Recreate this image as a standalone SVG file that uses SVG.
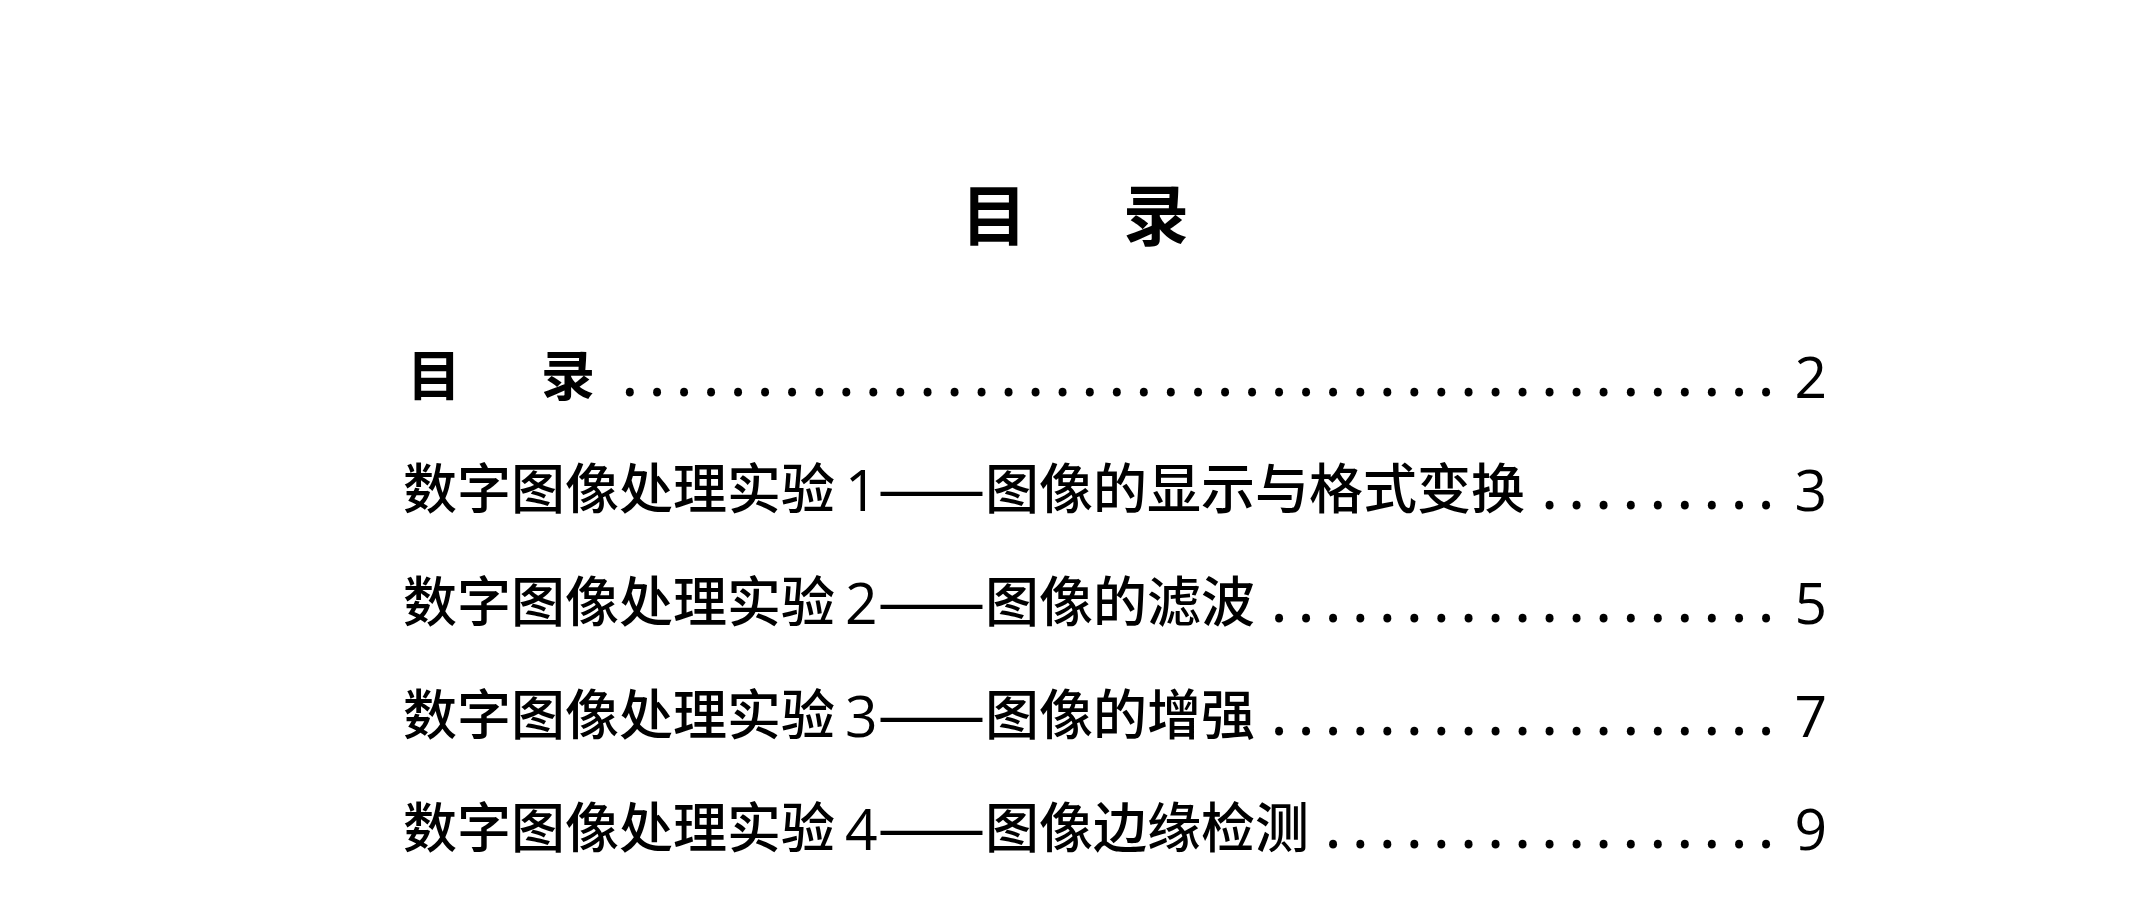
<svg xmlns="http://www.w3.org/2000/svg" width="2149" height="900" viewBox="0 0 2149 900">
<style>
.cjk{font-family:"Noto Sans CJK SC","Noto Sans",sans-serif;font-size:54px;font-weight:500;fill:#000}
.b{font-weight:700}
.num{font-family:"Open Sans","Noto Sans",sans-serif;font-size:57px;font-weight:400}
.dots{font-family:"Noto Sans",sans-serif;font-size:64px;fill:#000;text-anchor:middle}
.pg{font-family:"Open Sans","Noto Sans",sans-serif;font-size:57px;fill:#000;text-anchor:end}
</style>
<rect width="2149" height="900" fill="#fff"/>
<g id="title">
<text class="cjk b" style="font-size:66px" y="240"><tspan x="961">目</tspan><tspan x="1123">录</tspan></text>
</g>
<g id="toc1">
<text class="cjk b" y="396"><tspan x="407">目</tspan><tspan x="541">录</tspan></text>
<text class="dots" y="396" x="629.9 657 684 711.1 738.1 765.2 792.2 819.3 846.3 873.4 900.4 927.5 954.5 981.6 1008.6 1035.7 1062.7 1089.8 1116.8 1143.9 1170.9 1198 1225 1252.1 1279.1 1306.2 1333.2 1360.3 1387.3 1414.4 1441.4 1468.5 1495.5 1522.6 1549.6 1576.7 1603.7 1630.8 1657.8 1684.9 1711.9 1739 1766">...........................................</text>
<text class="pg" x="1827" y="398">2</text>
</g>
<g id="toc2">
<text class="cjk" y="509"><tspan x="403">数字图像处理实验 </tspan><tspan class="num" x="845" y="511">1</tspan><tspan y="509" textLength="108" lengthAdjust="spacingAndGlyphs">——</tspan><tspan x="985" y="509">图像的显示与格式变换</tspan></text>
<text class="dots" y="509" x="1549.6 1576.7 1603.7 1630.8 1657.8 1684.9 1711.9 1739 1766">.........</text>
<text class="pg" x="1827" y="511">3</text>
</g>
<g id="toc3">
<text class="cjk" y="622"><tspan x="403">数字图像处理实验 </tspan><tspan class="num" x="845" y="624">2</tspan><tspan y="622" textLength="108" lengthAdjust="spacingAndGlyphs">——</tspan><tspan x="985" y="622">图像的滤波</tspan></text>
<text class="dots" y="622" x="1279.1 1306.2 1333.2 1360.3 1387.3 1414.4 1441.4 1468.5 1495.5 1522.6 1549.6 1576.7 1603.7 1630.8 1657.8 1684.9 1711.9 1739 1766">...................</text>
<text class="pg" x="1827" y="624">5</text>
</g>
<g id="toc4">
<text class="cjk" y="735"><tspan x="403">数字图像处理实验 </tspan><tspan class="num" x="845" y="737">3</tspan><tspan y="735" textLength="108" lengthAdjust="spacingAndGlyphs">——</tspan><tspan x="985" y="735">图像的增强</tspan></text>
<text class="dots" y="735" x="1279.1 1306.2 1333.2 1360.3 1387.3 1414.4 1441.4 1468.5 1495.5 1522.6 1549.6 1576.7 1603.7 1630.8 1657.8 1684.9 1711.9 1739 1766">...................</text>
<text class="pg" x="1827" y="737">7</text>
</g>
<g id="toc5">
<text class="cjk" y="848"><tspan x="403">数字图像处理实验 </tspan><tspan class="num" x="845" y="850">4</tspan><tspan y="848" textLength="108" lengthAdjust="spacingAndGlyphs">——</tspan><tspan x="985" y="848">图像边缘检测</tspan></text>
<text class="dots" y="848" x="1333.2 1360.3 1387.3 1414.4 1441.4 1468.5 1495.5 1522.6 1549.6 1576.7 1603.7 1630.8 1657.8 1684.9 1711.9 1739 1766">.................</text>
<text class="pg" x="1827" y="850">9</text>
</g>
</svg>
